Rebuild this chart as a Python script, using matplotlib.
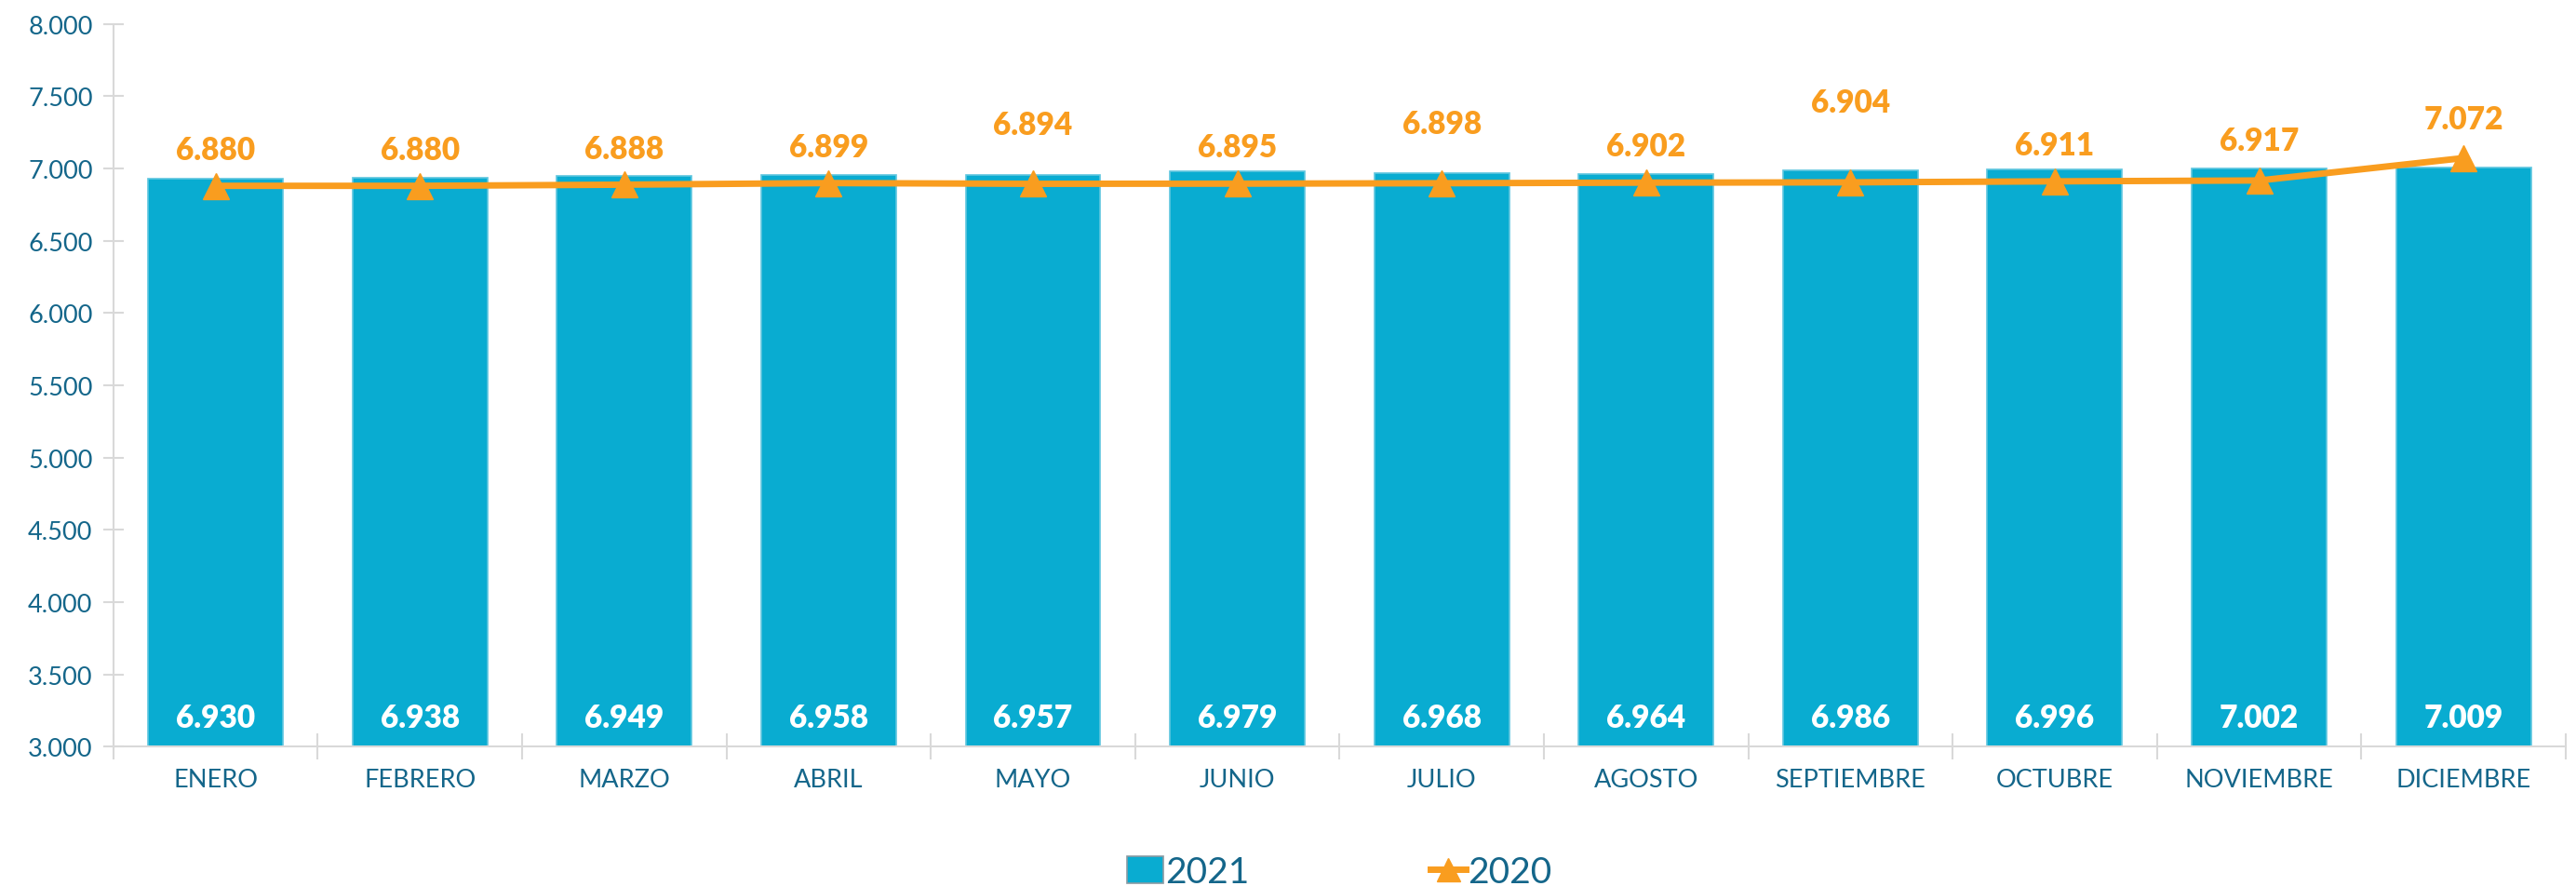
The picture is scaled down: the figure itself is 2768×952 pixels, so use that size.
import numpy as np
import matplotlib
matplotlib.use("Agg")
import matplotlib.pyplot as plt
from matplotlib.ticker import FuncFormatter

meses = ["ENERO", "FEBRERO", "MARZO", "ABRIL", "MAYO", "JUNIO", "JULIO",
         "AGOSTO", "SEPTIEMBRE", "OCTUBRE", "NOVIEMBRE", "DICIEMBRE"]
valores_2021 = [6930, 6938, 6949, 6958, 6957, 6979, 6968, 6964, 6986, 6996, 7002, 7009]
valores_2020 = [6880, 6880, 6888, 6899, 6894, 6895, 6898, 6902, 6904, 6911, 6917, 7072]
# label offset above the 2020 marker, in points (as placed in the original)
offset_etiqueta = [28, 28, 28, 28, 46, 28, 46, 28, 62, 28, 31, 30]

azul = "#09ACD1"
naranja = "#F99D1F"
texto = "#14668A"
gris = "#D9D9D9"

plt.rcParams['font.family'] = ['Lato', 'DejaVu Sans']

fig = plt.figure(figsize=(27.68, 9.53), dpi=100)
ax = fig.add_axes([0.044, 0.157, 0.952, 0.815])

x = np.arange(len(meses))
barras = ax.bar(x, valores_2021, width=0.66, color=azul, edgecolor="#5FC6DF", linewidth=1.2,
                label="2021", zorder=2)
linea, = ax.plot(x, valores_2020, color=naranja, linewidth=5, marker="^", markersize=20,
                 label="2020", zorder=3)

def miles(v):
    return f"{int(round(v)):,}".replace(",", ".")

for i in range(len(meses)):
    ax.text(x[i], 3200, miles(valores_2021[i]), ha="center", va="center",
            color="white", fontsize=24, fontweight="heavy", zorder=4)
    ax.annotate(miles(valores_2020[i]), (x[i], valores_2020[i]),
                xytext=(0, offset_etiqueta[i]), textcoords="offset points",
                ha="center", va="center", color=naranja, fontsize=24,
                fontweight="heavy", zorder=4)

ax.set_xlim(-0.5, len(meses) - 0.5)
ax.set_ylim(3000, 8000)
ax.set_yticks(np.arange(3000, 8001, 500))
ax.yaxis.set_major_formatter(FuncFormatter(lambda v, p: miles(v)))
ax.set_xticks(x)
ax.set_xticklabels(meses)
ax.set_xticks(np.arange(-0.5, len(meses), 1), minor=True)

for s in ["top", "right"]:
    ax.spines[s].set_visible(False)
for s in ["left", "bottom"]:
    ax.spines[s].set_color(gris)
    ax.spines[s].set_linewidth(1.5)

ax.tick_params(axis="y", colors=gris, labelcolor=texto, labelsize=19.5,
               direction="inout", length=16, width=1.5, pad=8)
ax.tick_params(axis="x", which="major", length=0, labelcolor=texto, labelsize=19.5, pad=16)
ax.tick_params(axis="x", which="minor", colors=gris, direction="inout", length=20, width=1.5)

leg = ax.legend([barras, linea], ["2021", "2020"], loc="upper center",
                bbox_to_anchor=(0.5, -0.105), ncol=2, frameon=False,
                fontsize=28, labelcolor=texto, columnspacing=5.0, handlelength=1.0,
                handleheight=0.8, handletextpad=0.05, markerscale=0.9)
leg.get_patches()[0].set_edgecolor("#8A9BA3")

fig.savefig("out.png", dpi=100)
